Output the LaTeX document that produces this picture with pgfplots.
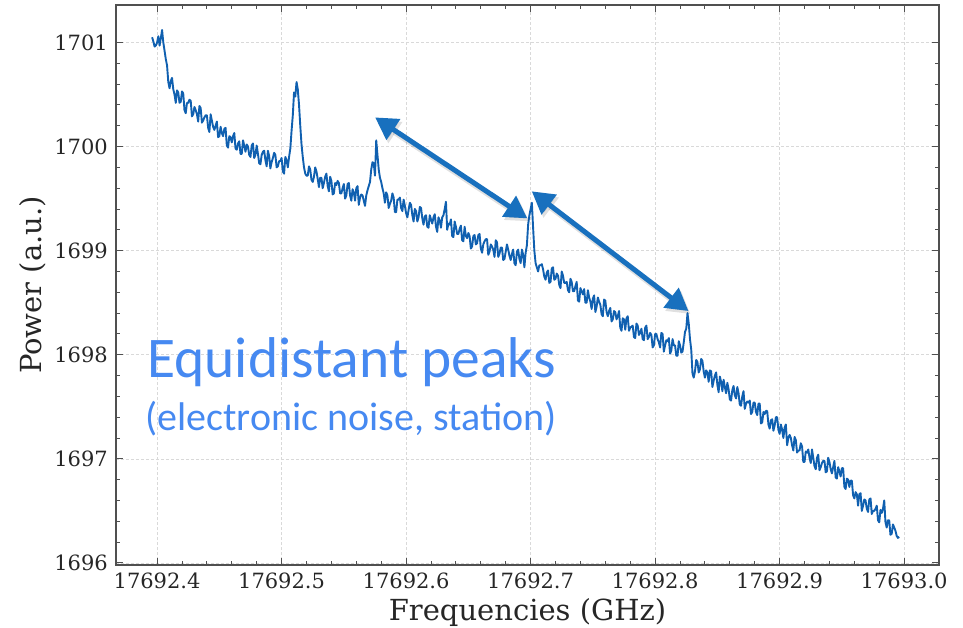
\documentclass[border=0pt]{standalone}
\usepackage{fontspec}
\setmainfont{DejaVu Serif}
\newfontfamily\carlito{Carlito}
\usepackage{pgfplots}
\pgfplotsset{compat=1.18}
\usetikzlibrary{arrows.meta}
\definecolor{linecol}{RGB}{16,96,176}
\definecolor{arrowcol}{RGB}{24,112,190}
\definecolor{txtcol}{RGB}{70,137,241}
\definecolor{framecol}{RGB}{80,80,80}
\begin{document}
\begin{tikzpicture}
\useasboundingbox (-116pt,-62pt) rectangle (847pt,565pt);
\begin{axis}[
  at={(0pt,0pt)}, anchor=south west,
  scale only axis, width=823pt, height=560pt,
  xmin=0.367, xmax=1.028, ymin=1695.98, ymax=1701.36,
  xtick={0.4,0.5,0.6,0.7,0.8,0.9,1.0},
  xticklabels={17692.4,17692.5,17692.6,17692.7,17692.8,17692.9,17693.0},
  ytick={1696,1697,1698,1699,1700,1701},
  yticklabels={1696,1697,1698,1699,1700,1701},
  minor x tick num=4, minor y tick num=4,
  major tick length=7pt, minor tick length=4pt,
  tick align=inside, tick pos=both,
  axis line style={framecol, line width=1.1pt},
  every tick/.style={framecol, line width=0.9pt},
  grid=major,
  major grid style={gray!30, line width=0.6pt, dash pattern=on 3pt off 2pt},
  tick label style={font=\fontsize{21}{21}\selectfont, text=black!85, inner sep=0pt},
  yticklabel style={xshift=-8pt},
  xticklabel style={yshift=-8pt},
  xlabel={Frequencies (GHz)},
  ylabel={Power (a.u.)},
  every axis x label/.style={at={(axis description cs:0.5,0)}, yshift=-55pt, anchor=base, font=\fontsize{29}{29}\selectfont, text=black!85},
  every axis y label/.style={at={(axis description cs:0,0.5)}, xshift=-74pt, rotate=90, anchor=base, font=\fontsize{29}{29}\selectfont, text=black!85},
]
\addplot[linecol, line width=1.9pt, line join=round] coordinates {
(0.396,1701.05)(0.397,1701.01)(0.398,1700.96)(0.399,1700.97)(0.400,1701.00)(0.401,1701.06)
(0.402,1700.97)(0.403,1701.04)(0.404,1701.12)(0.405,1701.00)(0.406,1700.92)(0.407,1700.84)
(0.408,1700.78)(0.409,1700.62)(0.410,1700.56)(0.411,1700.63)(0.412,1700.66)(0.413,1700.55)
(0.414,1700.50)(0.415,1700.42)(0.416,1700.54)(0.417,1700.52)(0.418,1700.42)(0.419,1700.43)
(0.420,1700.53)(0.421,1700.51)(0.422,1700.35)(0.423,1700.32)(0.424,1700.42)(0.425,1700.42)
(0.426,1700.45)(0.427,1700.44)(0.428,1700.29)(0.429,1700.31)(0.430,1700.38)(0.431,1700.35)
(0.432,1700.31)(0.433,1700.24)(0.434,1700.39)(0.435,1700.37)(0.436,1700.23)(0.437,1700.25)
(0.438,1700.28)(0.439,1700.30)(0.440,1700.30)(0.441,1700.18)(0.442,1700.14)(0.443,1700.31)
(0.444,1700.25)(0.445,1700.19)(0.446,1700.16)(0.447,1700.20)(0.448,1700.24)(0.449,1700.09)
(0.450,1700.10)(0.451,1700.19)(0.452,1700.13)(0.453,1700.10)(0.454,1700.17)(0.455,1700.18)
(0.456,1700.01)(0.457,1699.99)(0.458,1700.10)(0.459,1700.09)(0.460,1700.04)(0.461,1700.10)
(0.462,1700.13)(0.463,1699.98)(0.464,1699.97)(0.465,1700.03)(0.466,1700.05)(0.467,1699.93)
(0.468,1699.93)(0.469,1700.06)(0.470,1700.01)(0.471,1699.95)(0.472,1700.02)(0.473,1700.00)
(0.474,1699.92)(0.475,1699.90)(0.476,1700.01)(0.477,1700.03)(0.478,1699.89)(0.479,1699.92)
(0.480,1700.01)(0.481,1699.93)(0.482,1699.84)(0.483,1699.83)(0.484,1699.92)(0.485,1699.95)
(0.486,1699.96)(0.487,1699.87)(0.488,1699.81)(0.489,1699.96)(0.490,1699.91)(0.491,1699.79)
(0.492,1699.85)(0.493,1699.89)(0.494,1699.94)(0.495,1699.92)(0.496,1699.80)(0.497,1699.81)
(0.498,1699.86)(0.499,1699.86)(0.500,1699.89)(0.501,1699.76)(0.502,1699.74)(0.503,1699.90)
(0.504,1699.87)(0.505,1699.80)(0.506,1699.90)(0.507,1699.98)(0.508,1700.15)(0.509,1700.30)
(0.510,1700.52)(0.511,1700.48)(0.512,1700.62)(0.513,1700.55)(0.514,1700.40)(0.515,1700.20)
(0.516,1700.02)(0.517,1699.90)(0.518,1699.80)(0.519,1699.74)
(0.520,1699.72)(0.521,1699.72)(0.522,1699.81)(0.523,1699.78)(0.524,1699.68)(0.525,1699.66)
(0.526,1699.71)(0.527,1699.80)(0.528,1699.76)(0.529,1699.69)(0.530,1699.61)(0.531,1699.70)
(0.532,1699.70)(0.533,1699.60)(0.534,1699.65)(0.535,1699.71)(0.536,1699.74)(0.537,1699.62)
(0.538,1699.57)(0.539,1699.71)(0.540,1699.67)(0.541,1699.54)(0.542,1699.55)(0.543,1699.65)
(0.544,1699.63)(0.545,1699.67)(0.546,1699.65)(0.547,1699.55)(0.548,1699.55)(0.549,1699.60)
(0.550,1699.64)(0.551,1699.50)(0.552,1699.53)(0.553,1699.64)(0.554,1699.65)(0.555,1699.53)
(0.556,1699.48)(0.557,1699.59)(0.558,1699.56)(0.559,1699.48)(0.560,1699.60)(0.561,1699.62)
(0.562,1699.44)(0.563,1699.51)(0.564,1699.54)(0.565,1699.53)(0.566,1699.48)(0.567,1699.43)
(0.568,1699.53)(0.569,1699.58)(0.570,1699.62)(0.571,1699.66)(0.572,1699.78)(0.573,1699.85)
(0.574,1699.84)(0.575,1699.72)(0.576,1700.06)(0.577,1699.92)(0.578,1699.78)(0.579,1699.70)
(0.580,1699.66)(0.581,1699.60)(0.582,1699.55)(0.583,1699.46)
(0.584,1699.56)(0.585,1699.53)(0.586,1699.41)(0.587,1699.45)(0.588,1699.48)(0.589,1699.55)
(0.590,1699.51)(0.591,1699.37)(0.592,1699.37)(0.593,1699.49)(0.594,1699.49)(0.595,1699.51)
(0.596,1699.41)(0.597,1699.38)(0.598,1699.49)(0.599,1699.43)(0.600,1699.36)(0.601,1699.32)
(0.602,1699.39)(0.603,1699.46)(0.604,1699.44)(0.605,1699.34)(0.606,1699.28)(0.607,1699.40)
(0.608,1699.38)(0.609,1699.28)(0.610,1699.32)(0.611,1699.42)(0.612,1699.41)(0.613,1699.31)
(0.614,1699.25)(0.615,1699.33)(0.616,1699.34)(0.617,1699.23)(0.618,1699.22)(0.619,1699.34)
(0.620,1699.30)(0.621,1699.26)(0.622,1699.32)(0.623,1699.35)(0.624,1699.23)(0.625,1699.18)
(0.626,1699.32)(0.627,1699.29)(0.628,1699.22)(0.629,1699.32)(0.630,1699.34)(0.631,1699.40)
(0.632,1699.47)(0.633,1699.20)(0.634,1699.26)(0.635,1699.25)(0.636,1699.30)(0.637,1699.14)
(0.638,1699.13)(0.639,1699.28)(0.640,1699.23)(0.641,1699.16)(0.642,1699.16)(0.643,1699.21)
(0.644,1699.24)(0.645,1699.10)(0.646,1699.09)(0.647,1699.23)(0.648,1699.14)(0.649,1699.12)
(0.650,1699.17)(0.651,1699.14)(0.652,1699.02)(0.653,1699.04)(0.654,1699.14)(0.655,1699.15)
(0.656,1699.06)(0.657,1699.07)(0.658,1699.15)(0.659,1699.16)(0.660,1699.02)(0.661,1698.98)
(0.662,1699.06)(0.663,1699.09)(0.664,1699.11)(0.665,1699.11)(0.666,1698.96)(0.667,1698.99)
(0.668,1699.06)(0.669,1699.04)(0.670,1699.01)(0.671,1698.94)(0.672,1699.10)(0.673,1699.08)
(0.674,1698.94)(0.675,1698.97)(0.676,1699.03)(0.677,1699.03)(0.678,1698.91)(0.679,1698.92)
(0.680,1698.99)(0.681,1699.06)(0.682,1699.01)(0.683,1698.95)(0.684,1698.91)(0.685,1698.97)
(0.686,1699.01)(0.687,1698.88)(0.688,1698.86)(0.689,1698.99)(0.690,1699.01)(0.691,1698.92)
(0.692,1698.88)(0.693,1699.01)(0.694,1698.96)(0.695,1698.84)(0.696,1698.98)(0.697,1699.05)
(0.698,1699.25)(0.699,1699.34)(0.700,1699.40)(0.701,1699.46)(0.702,1699.22)(0.703,1699.00)
(0.704,1698.88)(0.705,1698.84)
(0.706,1698.80)(0.707,1698.86)(0.708,1698.86)(0.709,1698.87)(0.710,1698.82)(0.711,1698.75)
(0.712,1698.72)(0.713,1698.79)(0.714,1698.81)(0.715,1698.69)(0.716,1698.70)(0.717,1698.83)
(0.718,1698.84)(0.719,1698.72)(0.720,1698.73)(0.721,1698.78)(0.722,1698.76)(0.723,1698.67)
(0.724,1698.64)(0.725,1698.80)(0.726,1698.76)(0.727,1698.69)(0.728,1698.69)(0.729,1698.70)
(0.730,1698.62)(0.731,1698.60)(0.732,1698.73)(0.733,1698.70)(0.734,1698.61)(0.735,1698.61)
(0.736,1698.66)(0.737,1698.70)(0.738,1698.52)(0.739,1698.51)(0.740,1698.64)(0.741,1698.61)
(0.742,1698.58)(0.743,1698.63)(0.744,1698.50)(0.745,1698.50)(0.746,1698.62)(0.747,1698.55)
(0.748,1698.51)(0.749,1698.44)(0.750,1698.54)(0.751,1698.57)(0.752,1698.41)(0.753,1698.46)
(0.754,1698.55)(0.755,1698.51)(0.756,1698.48)(0.757,1698.39)(0.758,1698.37)(0.759,1698.53)
(0.760,1698.52)(0.761,1698.41)(0.762,1698.37)(0.763,1698.42)(0.764,1698.45)(0.765,1698.32)
(0.766,1698.34)(0.767,1698.42)(0.768,1698.41)(0.769,1698.34)(0.770,1698.37)(0.771,1698.42)
(0.772,1698.26)(0.773,1698.23)(0.774,1698.35)(0.775,1698.34)(0.776,1698.24)(0.777,1698.35)
(0.778,1698.37)(0.779,1698.23)(0.780,1698.26)(0.781,1698.27)(0.782,1698.28)(0.783,1698.17)
(0.784,1698.16)(0.785,1698.30)(0.786,1698.28)(0.787,1698.19)(0.788,1698.21)(0.789,1698.25)
(0.790,1698.15)(0.791,1698.14)(0.792,1698.26)(0.793,1698.28)(0.794,1698.15)(0.795,1698.17)
(0.796,1698.21)(0.797,1698.19)(0.798,1698.07)(0.799,1698.09)(0.800,1698.20)(0.801,1698.20)
(0.802,1698.15)(0.803,1698.12)(0.804,1698.07)(0.805,1698.21)(0.806,1698.20)(0.807,1698.03)
(0.808,1698.09)(0.809,1698.14)(0.810,1698.13)(0.811,1698.16)(0.812,1698.01)(0.813,1698.04)
(0.814,1698.15)(0.815,1698.09)(0.816,1698.09)(0.817,1697.99)(0.818,1697.99)(0.819,1698.13)
(0.820,1698.09)(0.821,1698.02)(0.822,1698.03)(0.823,1698.12)(0.824,1698.22)(0.825,1698.25)
(0.826,1698.40)(0.827,1698.30)(0.828,1698.15)(0.829,1698.05)(0.830,1697.82)(0.831,1697.78)
(0.832,1697.84)(0.833,1697.95)(0.834,1697.93)(0.835,1697.83)(0.836,1697.86)(0.837,1697.96)
(0.838,1697.94)(0.839,1697.84)(0.840,1697.78)(0.841,1697.85)(0.842,1697.83)(0.843,1697.74)
(0.844,1697.85)(0.845,1697.84)(0.846,1697.69)(0.847,1697.75)(0.848,1697.80)(0.849,1697.83)
(0.850,1697.71)(0.851,1697.64)(0.852,1697.79)(0.853,1697.74)(0.854,1697.65)(0.855,1697.76)
(0.856,1697.69)(0.857,1697.63)(0.858,1697.73)(0.859,1697.67)(0.860,1697.57)(0.861,1697.56)
(0.862,1697.66)(0.863,1697.70)(0.864,1697.61)(0.865,1697.58)(0.866,1697.69)(0.867,1697.63)
(0.868,1697.52)(0.869,1697.51)(0.870,1697.60)(0.871,1697.65)(0.872,1697.48)(0.873,1697.53)
(0.874,1697.55)(0.875,1697.54)(0.876,1697.56)(0.877,1697.43)(0.878,1697.45)(0.879,1697.54)
(0.880,1697.54)(0.881,1697.45)(0.882,1697.42)(0.883,1697.53)(0.884,1697.53)(0.885,1697.34)
(0.886,1697.35)(0.887,1697.45)(0.888,1697.43)(0.889,1697.46)(0.890,1697.46)(0.891,1697.33)
(0.892,1697.29)(0.893,1697.37)(0.894,1697.38)(0.895,1697.27)(0.896,1697.32)(0.897,1697.40)
(0.898,1697.40)(0.899,1697.28)(0.900,1697.24)(0.901,1697.33)(0.902,1697.28)(0.903,1697.20)
(0.904,1697.30)(0.905,1697.33)(0.906,1697.13)(0.907,1697.20)(0.908,1697.23)(0.909,1697.20)
(0.910,1697.13)(0.911,1697.08)(0.912,1697.21)(0.913,1697.18)(0.914,1697.06)(0.915,1697.08)
(0.916,1697.08)(0.917,1697.15)(0.918,1697.12)(0.919,1696.97)(0.920,1696.97)(0.921,1697.07)
(0.922,1697.06)(0.923,1697.09)(0.924,1697.01)(0.925,1696.96)(0.926,1697.09)(0.927,1697.01)
(0.928,1696.93)(0.929,1696.90)(0.930,1697.01)(0.931,1697.04)(0.932,1696.89)(0.933,1696.92)
(0.934,1696.96)(0.935,1696.98)(0.936,1696.98)(0.937,1696.87)(0.938,1696.88)(0.939,1697.01)
(0.940,1696.97)(0.941,1696.90)(0.942,1696.86)(0.943,1696.92)(0.944,1696.98)(0.945,1696.82)
(0.946,1696.81)(0.947,1696.92)(0.948,1696.88)(0.949,1696.83)(0.950,1696.91)(0.951,1696.91)
(0.952,1696.73)(0.953,1696.71)(0.954,1696.81)(0.955,1696.80)(0.956,1696.73)(0.957,1696.79)
(0.958,1696.79)(0.959,1696.65)(0.960,1696.62)(0.961,1696.68)(0.962,1696.66)(0.963,1696.55)
(0.964,1696.66)(0.965,1696.67)(0.966,1696.50)(0.967,1696.55)(0.968,1696.61)(0.969,1696.60)
(0.970,1696.52)(0.971,1696.49)(0.972,1696.61)(0.973,1696.62)(0.974,1696.47)(0.975,1696.50)
(0.976,1696.50)(0.977,1696.52)(0.978,1696.55)(0.979,1696.41)(0.980,1696.39)(0.981,1696.51)
(0.982,1696.48)(0.983,1696.52)(0.984,1696.60)(0.985,1696.39)(0.986,1696.34)(0.987,1696.41)
(0.988,1696.41)(0.989,1696.27)(0.990,1696.28)(0.991,1696.37)(0.992,1696.34)(0.993,1696.31)
(0.994,1696.26)(0.995,1696.24)(0.996,1696.25)
};
% soft shadows of arrows
\draw[black, opacity=0.12, line width=6pt, {Triangle[length=22pt,width=24pt]}-{Triangle[length=22pt,width=24pt]}, transform canvas={xshift=2pt,yshift=-3pt}]
  (axis cs:0.5751,1700.28) -- (axis cs:0.6974,1699.31);
\draw[black, opacity=0.12, line width=6pt, {Triangle[length=22pt,width=24pt]}-{Triangle[length=22pt,width=24pt]}, transform canvas={xshift=2pt,yshift=-3pt}]
  (axis cs:0.7009,1699.57) -- (axis cs:0.8268,1698.42);
% arrows
\draw[arrowcol, line width=5pt, {Triangle[length=22pt,width=24pt]}-{Triangle[length=22pt,width=24pt]}]
  (axis cs:0.5751,1700.28) -- (axis cs:0.6974,1699.31);
\draw[arrowcol, line width=5pt, {Triangle[length=22pt,width=24pt]}-{Triangle[length=22pt,width=24pt]}]
  (axis cs:0.7009,1699.57) -- (axis cs:0.8268,1698.42);
\node[anchor=base west, inner sep=0pt, text=txtcol, font=\carlito\fontsize{57.5}{57.5}\selectfont]
  at (axis cs:0.392,1697.785) {Equidistant peaks};
\node[anchor=base west, inner sep=0pt, text=txtcol, font=\carlito\fontsize{40}{40}\selectfont]
  at (axis cs:0.3904,1697.276) {(electronic noise, station)};
\end{axis}
\end{tikzpicture}
\end{document}
